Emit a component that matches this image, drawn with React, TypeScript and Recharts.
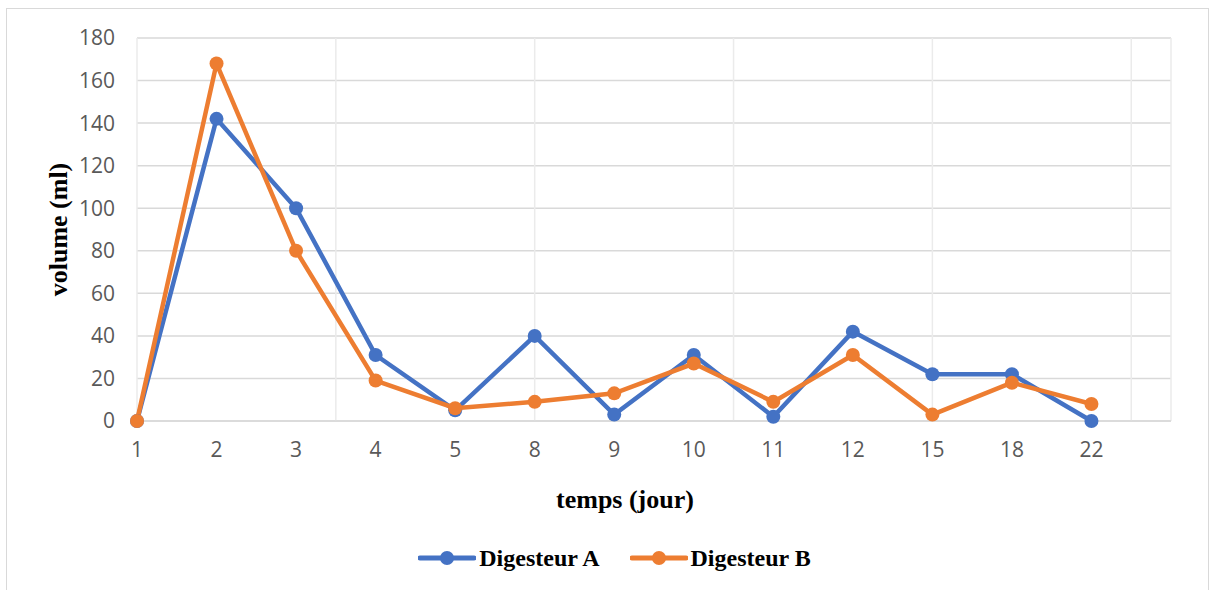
import { LineChart, Line, XAxis, YAxis, CartesianGrid, Legend } from 'recharts'

const days = ['1', '2', '3', '4', '5', '8', '9', '10', '11', '12', '15', '18', '22']
const digesteurA = [0, 142, 100, 31, 5, 40, 3, 31, 2, 42, 22, 22, 0]
const digesteurB = [0, 168, 80, 19, 6, 9, 13, 27, 9, 31, 3, 18, 8]
const yTicks = [0, 20, 40, 60, 80, 100, 120, 140, 160, 180]
const gridTicks = [2.5, 5, 7.5, 10, 12.5]

const BLUE = '#4472C4'
const ORANGE = '#ED7D31'

const data = days.map((d, i) => ({ idx: i, day: d, a: digesteurA[i], b: digesteurB[i] }))

const tickStyle = { fontSize: 21, fill: '#595959', fontFamily: '"Open Sans", sans-serif' }
const titleFont = { fontFamily: '"Liberation Serif", "Times New Roman", serif', fontWeight: 700, fill: '#000' }

// axis titles drawn from the axis viewBox
const YTitle = (props: any) => {
  const { viewBox } = props
  const cx = viewBox.x + 58
  const cy = viewBox.y + viewBox.height / 2
  return (
    <text x={cx} y={cy} transform={`rotate(-90 ${cx} ${cy})`} textAnchor="middle" dominantBaseline="central" fontSize={26} style={titleFont}>
      volume (ml)
    </text>
  )
}

const XTitle = (props: any) => {
  const { viewBox } = props
  return (
    <text x={viewBox.x + 488} y={viewBox.y + 78} textAnchor="middle" dominantBaseline="central" fontSize={26} style={titleFont}>
      temps (jour)
    </text>
  )
}

const LegendContent = (props: any) => {
  const { payload } = props
  return (
    <div style={{ display: 'flex', justifyContent: 'center', alignItems: 'center', gap: 30, height: 50, paddingLeft: 18 }}>
      {payload.map((p: any) => (
        <div key={p.value} style={{ display: 'flex', alignItems: 'center', gap: 3 }}>
          <svg width={58} height={16}>
            <line x1={2} y1={8} x2={56} y2={8} stroke={p.color} strokeWidth={5} strokeLinecap="round" />
            <circle cx={29} cy={8} r={7} fill={p.color} />
          </svg>
          <span style={{ fontFamily: '"Liberation Serif", "Times New Roman", serif', fontWeight: 700, fontSize: 24, color: '#000' }}>{p.value}</span>
        </div>
      ))}
    </div>
  )
}

export default function App() {
  return (
    <div style={{ position: 'absolute', left: 0, top: 0, width: 1211, height: 590, overflow: 'hidden', background: '#fff' }}>
      <div style={{ position: 'absolute', left: 6, top: 8, width: 1203, height: 640, border: '1.5px solid #d9d9d9', boxSizing: 'border-box' }} />
      <div style={{ position: 'absolute', left: 0, top: 0 }}>
        <LineChart width={1211} height={590} data={data} margin={{ top: 38, right: 40, bottom: 0, left: 0 }}>
          <CartesianGrid vertical={false} stroke="#d9d9d9" strokeWidth={1.5} yAxisId="y" />
          <CartesianGrid horizontal={false} stroke="#ebebeb" strokeWidth={1.5} xAxisId="grid" yAxisId="y" />
          <XAxis
            xAxisId="main"
            dataKey="idx"
            type="number"
            domain={[0, 13]}
            ticks={days.map((_, i) => i)}
            tickFormatter={(v: number) => days[v]}
            interval={0}
            tick={tickStyle}
            tickLine={false}
            tickSize={0}
            tickMargin={21}
            axisLine={{ stroke: '#d9d9d9', strokeWidth: 1.5 }}
            height={119}
            label={<XTitle />}
          />
          <XAxis xAxisId="grid" type="number" dataKey="idx" domain={[0, 13]} ticks={gridTicks} hide height={0} />
          <YAxis
            yAxisId="y"
            domain={[0, 180]}
            ticks={yTicks}
            tick={tickStyle}
            tickLine={false}
            axisLine={false}
            tickSize={0}
            tickMargin={22}
            width={137}
            label={<YTitle />}
          />
          <Legend verticalAlign="bottom" height={50} wrapperStyle={{ top: 533, left: 0, width: 1211 }} content={<LegendContent />} />
          <Line xAxisId="main" yAxisId="y" dataKey="a" name="Digesteur A" stroke={BLUE} strokeWidth={4.5} dot={{ r: 7, fill: BLUE, stroke: 'none' }} isAnimationActive={false} />
          <Line xAxisId="main" yAxisId="y" dataKey="b" name="Digesteur B" stroke={ORANGE} strokeWidth={4.5} dot={{ r: 7, fill: ORANGE, stroke: 'none' }} isAnimationActive={false} />
        </LineChart>
      </div>
    </div>
  )
}
